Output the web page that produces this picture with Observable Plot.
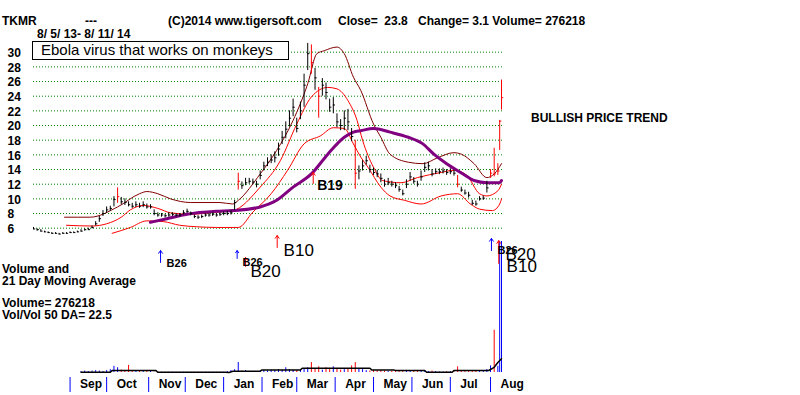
<!DOCTYPE html>
<html><head><meta charset="utf-8">
<script src="https://cdn.jsdelivr.net/npm/d3@7"></script>
<script src="https://cdn.jsdelivr.net/npm/@observablehq/plot@0.6"></script>
<style>
body{margin:0;background:#fff;}
#wrap{position:relative;width:800px;height:395px;overflow:hidden;font-family:Arial,"Liberation Sans",sans-serif;background:#fff;}
.lbl{position:absolute;white-space:pre;font-weight:bold;font-size:12px;line-height:12px;color:#000;}
.plt{position:absolute;left:0;}
#box{position:absolute;left:32px;top:41px;width:257px;height:19px;box-sizing:border-box;border:1px solid #000;background:#fff;}
</style></head><body><div id="wrap"></div>
<script>
// ---- data ----
const yTicks = [6,8,10,12,14,16,18,20,22,24,26,28,30];
const months = ["Sep","Oct","Nov","Dec","Jan","Feb","Mar","Apr","May","Jun","Jul","Aug"];
const monthDays = [20,40,63,83,104,125,144,165,186,207,228,250]; // trading-day index of month start

const low = [5.8,5.6,5.5,5.4,5.3,5.2,5.2,5.1,5.2,5.2, 5.3,5.3,5.4,5.5,5.6,5.7,5.9,6.3,6.8,7.6, 8.0,8.3,8.9,9.4,9.2,9.1,8.9,8.7,8.8,8.7, 8.8,8.6,8.6,7.7,7.5,7.5,7.4,7.5,7.6,7.5, 7.5,7.8,8.0,7.7,7.3,7.2,7.3,7.5,7.5,7.6, 7.5,7.6,7.7,7.7,7.8,8.4,11.2,11.3,11.8,12.0, 11.9,11.5,12.6,13.8,14.4,14.8,14.9,15.8,17.4,18.2, 19.8,21.2,19.0,20.8,22.5,27.5,27.0,24.8,21.0,24.0, 23.5,21.8,21.6,19.7,19.3,19.3,19.3,17.8,11.3,12.6, 13.8,14.6,13.5,13.2,12.9,12.2,11.6,11.8,11.6,11.4, 10.9,10.4,11.4,12.4,12.0,11.6,12.4,13.6,13.8,13.0, 13.3,13.3,13.4,13.2,13.3,13.1,11.5,10.9,10.5,10.1, 9.1,9.0,9.7,9.8,10.8,12.8,13.0,13.2,16.6,22.1];
const high = [6.1,5.9,5.8,5.6,5.5,5.4,5.4,5.3,5.4,5.4, 5.5,5.5,5.6,5.8,5.9,6.0,6.3,6.9,7.6,8.4, 8.9,9.0,10.3,11.5,10.2,10.0,9.6,9.4,9.6,9.4, 9.6,9.3,9.2,8.5,8.1,8.0,7.9,8.1,8.1,8.0, 8.0,8.4,8.6,8.2,7.8,7.7,7.8,8.0,8.0,8.1, 8.0,8.1,8.2,8.3,8.4,9.8,13.5,12.3,12.8,12.8, 12.7,12.4,13.8,15.0,15.6,16.0,16.4,17.6,19.2,20.5, 22.0,23.6,21.0,23.2,27.0,31.2,31.0,27.8,25.2,26.4, 25.8,23.6,23.8,21.6,20.8,22.0,22.2,19.6,18.0,14.5, 15.2,15.8,14.6,14.2,13.9,13.4,12.6,12.8,12.4,12.2, 11.7,11.2,12.6,13.6,12.9,12.4,13.8,14.9,15.0,14.0, 14.1,14.1,14.2,14.0,14.1,13.9,13.2,11.6,11.2,10.9, 9.8,9.7,10.3,10.4,12.4,14.0,16.9,14.8,20.7,26.2];
const close = [5.9,5.8,5.6,5.5,5.4,5.3,5.3,5.2,5.3,5.3, 5.4,5.4,5.5,5.6,5.8,5.8,6.1,6.6,7.3,8.0, 8.5,8.7,9.9,10.3,9.6,9.5,9.2,9.0,9.2,9.0, 9.2,8.9,8.9,8.0,7.8,7.8,7.7,7.8,7.9,7.8, 7.8,8.1,8.3,8.0,7.6,7.5,7.6,7.8,7.8,7.9, 7.8,7.9,8.0,8.0,8.1,9.5,12.4,11.8,12.2,12.4, 12.3,12.0,13.2,14.5,15.0,15.3,15.6,16.8,18.4,19.5, 21.0,22.5,19.6,22.0,25.5,29.8,28.6,26.5,24.0,25.5, 24.5,22.5,22.8,20.5,20.0,21.0,20.5,18.5,13.5,13.8, 14.5,15.2,14.0,13.6,13.4,12.8,12.0,12.2,12.0,11.8, 11.3,10.7,12.0,13.0,12.4,12.0,13.0,14.3,14.5,13.4, 13.7,13.7,13.8,13.6,13.7,13.5,12.0,11.2,10.8,10.5, 9.4,9.3,10.0,10.1,11.5,13.5,13.4,13.8,20.6,23.8];
const redBars = [23,56,76,78,88,116,125,126,127,128,129];
const volume = [0,0,0,0,0,0,0,0,0,0, 0,0,0,2,3,2,3,4,3,2, 4,6,13,10,5,4,15,4,3,3, 2,3,2,0.5,0.5,0.5,0.5,0.5,0.5,0.5, 0.5,0.5,0.5,0.5,0.5,0.5,0.5,0.5,0.5,0.5, 0.5,0.5,0.5,2,4,6,21,3,4,2, 1,2,3,4,3,5,4,6,5,10, 6,5,4,6,8,10,21,8,12,5, 10,6,12,7,5,6,8,14,21,8, 6,4,3,4,3,4,3,2,3,2, 3,2,3,2,2,2,3,4,2,3, 2,1,1,2,2,3,12,3,2,2, 2,3,2,2,6,14,89,13,300,276.218]; // thousands

const maroonBand = [[17,7.5],[31,7.5],[46,8.9],[58,10.7],[62,11.0],[68,10.7],[75,10.0],[86,9.5],[102,9.5],[109,9.3],[112,9.8],[124,13.4],[133,16.6],[142,20.7],[150,25.7],[155,29.8],[159,30.2],[166,30.7],[170,29.8],[175,26.6],[179,24.8],[186,20.2],[190,18.4],[195,16.1],[205,15.0],[213,14.8],[221,15.6],[230,16.3],[234,16.1],[241,14.8],[248,12.9],[252,13.4],[256,14.8]];
const redUpper = [[18,6.4],[32,6.3],[40,6.6],[48,7.5],[53,8.5],[60,9.1],[68,8.7],[75,8.1],[86,7.9],[100,8.2],[109,8.4],[124,11.6],[135,15.2],[144,20.2],[152,23.9],[161,25.2],[166,25.0],[172,23.4],[177,20.7],[180,18.0],[186,14.3],[191,12.5],[201,12.2],[210,12.9],[223,13.6],[230,13.9],[237,13.2],[244,10.7],[248,10.4],[254,11.1],[256,12.0]];
const redLower = [[43,5.3],[53,6.1],[62,7.0],[71,6.9],[80,6.4],[89,6.2],[100,6.1],[112,6.1],[120,8.2],[130,10.7],[139,13.9],[148,17.5],[157,18.6],[164,19.7],[170,19.6],[175,17.5],[179,15.7],[183,14.3],[190,11.6],[195,10.4],[203,9.8],[212,9.3],[223,10.4],[232,10.7],[239,9.3],[244,8.6],[251,8.4],[255,9.3],[256,10.0]];
const purpleMA = [[64,6.8],[73,7.3],[84,7.9],[100,8.3],[109,8.4],[124,8.9],[133,9.8],[142,11.6],[152,13.4],[161,16.1],[170,18.4],[175,19.1],[179,19.3],[186,19.6],[195,19.1],[205,18.4],[213,17.5],[219,16.1],[226,14.8],[235,13.4],[241,12.5],[248,12.2],[255,12.2],[256,12.5]];
const volMA = [[26,0.6],[42,0.6],[43,4],[67,4],[68,0.6],[105,0.6],[107,0],[109,2.7],[124,2.7],[125,5.5],[146,5.5],[147,9],[184,9],[185,5.5],[197,5.5],[198,4.2],[214,4.2],[215,0.6],[229,0.6],[230,4.2],[249,4.2],[252,11],[254,21],[256,29]];

const sigDay = [69.5,111.4,116,133.3,153,250.5,254.5];
const sigFrom = [1.32,1.87,0.78,3.37,12.1,2.95,1.2];
const sigTo = [2.95,2.95,2.0,5.0,13.6,4.6,4.3];
const sigColor = ["#0000ff","#0000ff","#ff0000","#ff0000","#ff0000","#0000ff","#ff0000"];
const smallLabels = [{t:"B26",d:72.8,v:1.25},{t:"B26",d:114.3,v:1.39},{t:"B26",d:253.8,v:2.96}];
const bigLabels = [{t:"B20",d:118.7,v:0.03},{t:"B10",d:136.8,v:2.96},{t:"B20",d:258.2,v:2.41},{t:"B10",d:258.8,v:0.72}];
const midLabels = [{t:"B19",d:155.2,v:11.8}];

// ---- build ----
const bars = close.map((c,k)=>({day: k<128 ? 2*k : k+127, low: low[k], high: high[k], close: c, col: redBars.includes(k) ? "#ff0000" : "#000000"}));
const vbars = volume.map((v,k)=>({day: bars[k].day, vol: v, col: (k>0 && close[k] < close[k-1]) ? "#ff0000" : "#0000ff"})).filter(d=>d.vol>0);
const signals = sigDay.map((d,i)=>({day:d, from:sigFrom[i], to:sigTo[i], col:sigColor[i]}));

const wrap = document.getElementById("wrap");
const common = {width: 800, marginLeft: 33, marginRight: 299, x: {domain: [0,256], axis: null}, color: {type: "identity"}};

const price = Plot.plot({
  ...common, height: 300, marginTop: 51.7, marginBottom: 72.3,
  y: {domain: [6,30], axis: null},
  style: {background: "transparent", overflow: "visible", fontFamily: "Arial, 'Liberation Sans', sans-serif"},
  marks: [
    Plot.ruleY(yTicks, {y: d=>d, x1: 0, x2: 257, stroke: "#008000", strokeDasharray: "1,2"}),
    Plot.text(yTicks, {y: d=>d, text: d=>String(d), frameAnchor: "left", textAnchor: "start", dx: -26, dy: 1, fontWeight: "bold", fontSize: 12, fill: "#000"}),
    Plot.line(maroonBand, {x: d=>d[0], y: d=>d[1], stroke: "#800000", strokeWidth: 1, curve: "monotone-x"}),
    Plot.line(redUpper, {x: d=>d[0], y: d=>d[1], stroke: "#ff0000", strokeWidth: 1, curve: "monotone-x"}),
    Plot.line(redLower, {x: d=>d[0], y: d=>d[1], stroke: "#ff0000", strokeWidth: 1, curve: "monotone-x"}),
    Plot.line(purpleMA, {x: d=>d[0], y: d=>d[1], stroke: "#800080", strokeWidth: 3, curve: "monotone-x"}),
    Plot.ruleX(bars, {x: "day", y1: "low", y2: "high", stroke: "col", strokeWidth: 1}),
    Plot.ruleY(bars, {y: "close", x1: "day", x2: d=>d.day+1.2, stroke: "col", strokeWidth: 1}),
    Plot.arrow(signals, {x1: "day", x2: "day", y1: "from", y2: "to", stroke: "col", strokeWidth: 1, headLength: 5, headAngle: 70}),
    Plot.text(smallLabels, {x: "d", y: "v", text: "t", textAnchor: "start", fontSize: 11, fontWeight: "bold", fill: "#000"}),
    Plot.text(midLabels, {x: "d", y: "v", text: "t", textAnchor: "start", fontSize: 14, fontWeight: "bold", fill: "#000"}),
    Plot.text(bigLabels, {x: "d", y: "v", text: "t", textAnchor: "start", fontSize: 17, fill: "#000"})
  ]
});
price.classList.add("plt"); price.style.top = "0px";

const vol = Plot.plot({
  ...common, height: 155, marginTop: 1, marginBottom: 23,
  y: {domain: [0, 276.218], axis: null, clamp: true},
  style: {background: "transparent", overflow: "visible", fontFamily: "Arial, 'Liberation Sans', sans-serif"},
  marks: [
    Plot.ruleX(vbars, {x: "day", y1: 0, y2: "vol", stroke: "col", strokeWidth: 1}),
    Plot.line(volMA, {x: d=>d[0], y: d=>d[1], stroke: "#000", strokeWidth: 1.5}),
    Plot.ruleX(monthDays, {x: d=>d, stroke: "#0000ff", insetTop: 136, insetBottom: -20}),
    Plot.text(months, {x: (d,i)=>monthDays[i], text: d=>d, frameAnchor: "bottom", dy: 15, dx: 10, textAnchor: "start", fontWeight: "bold", fontSize: 12, fill: "#000"})
  ]
});
vol.classList.add("plt"); vol.style.top = "240px";

wrap.appendChild(vol);
wrap.appendChild(price);

const box = document.createElement("div"); box.id = "box"; wrap.appendChild(box);

const labels = [
  ["TKMR", 2, 15], ["---", 85, 15], ["(C)2014 www.tigersoft.com", 168, 15],
  ["Close=  23.8", 338, 15], ["Change= 3.1 Volume= 276218", 418, 15],
  ["8/ 5/ 13- 8/ 11/ 14", 37, 28],
  ["Volume and", 2, 263], ["21 Day Moving Average", 2, 275],
  ["Volume= 276218", 2, 297], ["Vol/Vol 50 DA= 22.5", 2, 309],
  ["BULLISH PRICE TREND", 531, 112]
];
for (const [t,x,y] of labels) {
  const s = document.createElement("div"); s.className = "lbl"; s.textContent = t;
  s.style.left = x + "px"; s.style.top = y + "px"; wrap.appendChild(s);
}
const eb = document.createElement("div"); eb.className = "lbl";
eb.textContent = "Ebola virus that works on monkeys";
eb.style.cssText = "left:41px;top:42px;font-size:15px;line-height:15px;font-weight:normal;";
wrap.appendChild(eb);
</script></body></html>
